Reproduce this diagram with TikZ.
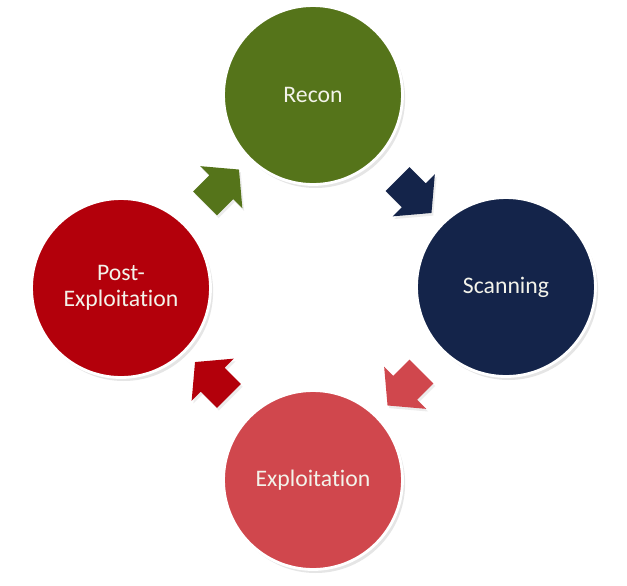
\documentclass[tikz,border=0pt]{standalone}
\usepackage{fontspec}
\setmainfont{Carlito}[Ligatures=NoCommon]
\usetikzlibrary{shapes,shapes.arrows,positioning,calc,shadows}

\definecolor{recongreen}{HTML}{55741A}
\definecolor{scannavy}{HTML}{14244A}
\definecolor{exploitred}{HTML}{D0474D}
\definecolor{postred}{HTML}{B3000B}
\definecolor{phasetext}{HTML}{F3F3EA}

\begin{document}
\begin{tikzpicture}[x=0.02cm, y=-0.02cm,
  phase/.style={circle, draw=white, line width=1.6pt, minimum size=3.58cm, text=phasetext, align=center,
    font=\fontsize{13.5}{14.5}\selectfont, drop shadow={shadow xshift=1.5pt, shadow yshift=-2pt, opacity=0.2}},
  cycle arrow/.style={single arrow, single arrow head extend=0.26cm, single arrow tip angle=100,
    minimum height=0.96cm, inner xsep=0pt, inner ysep=0.33cm,
    drop shadow={shadow xshift=1pt, shadow yshift=-1.5pt, opacity=0.15}}]
	\fill[white] (0,0) rectangle (627,586);
	\useasboundingbox (0,0) rectangle (627,586);

	% Define phases
	\node[phase, fill=recongreen] (Recon) at (313,95) {Recon};
	\node[phase, fill=scannavy] (Scanning) at (506,287) {Scanning};
	\node[phase, fill=exploitred] (Exploitation) at (313,480) {Exploitation};
	\node[phase, fill=postred] (Post_Exploitation) at (121,288) {Post-\\Exploitation};

	% Define arrows between phases
	\node[cycle arrow, fill=recongreen, rotate=45] (Post_to_Recon) at ($(Post_Exploitation)!0.5!(Recon)$) {};
	\node[cycle arrow, fill=scannavy, rotate=-45] (Recon_to_Scanning) at ($(Recon)!0.5!(Scanning)$) {};
	\node[cycle arrow, fill=exploitred, rotate=-135] (Scanning_to_Exploitation) at ($(Scanning)!0.5!(Exploitation)$) {};
	\node[cycle arrow, fill=postred, rotate=135] (Exploitation_to_Post) at ($(Exploitation)!0.5!(Post_Exploitation)$) {};
\end{tikzpicture}
\end{document}
